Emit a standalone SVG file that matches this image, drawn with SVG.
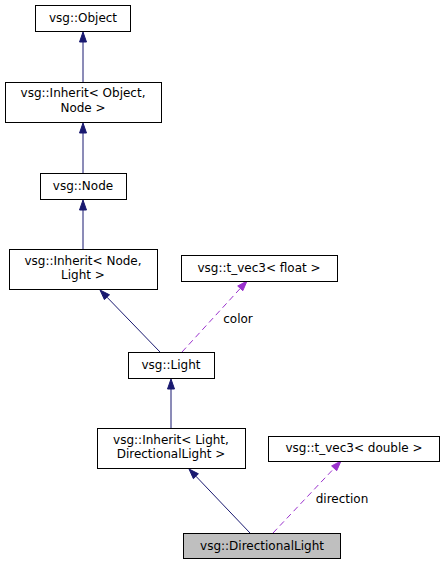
<svg xmlns="http://www.w3.org/2000/svg" width="445" height="564" viewBox="0 0 445 564">
<style>
.box{fill:#fff;stroke:#000;stroke-width:1}
.cur{fill:#bfbfbf;stroke:#000;stroke-width:1}
text{font-family:"DejaVu Sans",sans-serif;font-size:12px;text-anchor:middle;fill:#000}
.inh{stroke:#191970;stroke-width:1;fill:none}
.use{stroke:#9a32cd;stroke-width:1;fill:none;stroke-dasharray:6,4}
.ah{fill:#191970;stroke:#191970}
.ap{fill:#9a32cd;stroke:#9a32cd}
</style>
<rect width="445" height="564" fill="#fff"/>
<g id="edges">
<path class="inh" d="M83,82 L83,42"/>
<polygon class="ah" points="79.5,42 83,32 86.5,42"/>
<path class="inh" d="M83,173 L83,133"/>
<polygon class="ah" points="79.5,133 83,123 86.5,133"/>
<path class="inh" d="M83,250 L83,210"/>
<polygon class="ah" points="79.5,210 83,200 86.5,210"/>
<path class="inh" d="M160,352 L107,297.2"/>
<polygon class="ah" points="109.5,294.8 100,290 104.4,299.6"/>
<path class="use" d="M182,352 L240.3,288.4"/>
<polygon class="ap" points="242.8,290.7 247,281 237.7,286"/>
<text x="238" y="323">color</text>
<path class="inh" d="M171,428 L171,389"/>
<polygon class="ah" points="167.5,389 171,379 174.5,389"/>
<path class="inh" d="M250,533 L195.9,476.2"/>
<polygon class="ah" points="198.4,473.8 189,469 193.4,478.7"/>
<path class="use" d="M273,533 L334.1,468.3"/>
<polygon class="ap" points="336.7,470.7 341,461 331.6,465.9"/>
<text x="342" y="503">direction</text>
</g>
<g id="node-object"><rect class="box" x="35.5" y="5.5" width="95" height="26"/><text x="83" y="22">vsg::Object</text></g>
<g id="node-inherit-object-node"><rect class="box" x="5.5" y="82.5" width="156" height="40"/><text x="83" y="97">vsg::Inherit&lt; Object,</text><text x="83" y="112">Node &gt;</text></g>
<g id="node-node"><rect class="box" x="40.5" y="173.5" width="86" height="26"/><text x="83" y="190">vsg::Node</text></g>
<g id="node-inherit-node-light"><rect class="box" x="9.5" y="249.5" width="148" height="40"/><text x="83" y="265">vsg::Inherit&lt; Node,</text><text x="83" y="279">Light &gt;</text></g>
<g id="node-tvec3-float"><rect class="box" x="181.5" y="255.5" width="156" height="26"/><text x="259" y="272">vsg::t_vec3&lt; float &gt;</text></g>
<g id="node-light"><rect class="box" x="128.5" y="352.5" width="86" height="26"/><text x="171" y="369">vsg::Light</text></g>
<g id="node-inherit-light-dl"><rect class="box" x="97.5" y="428.5" width="148" height="40"/><text x="171" y="444">vsg::Inherit&lt; Light,</text><text x="171" y="458">DirectionalLight &gt;</text></g>
<g id="node-tvec3-double"><rect class="box" x="268.5" y="436.5" width="171" height="25"/><text x="354" y="452">vsg::t_vec3&lt; double &gt;</text></g>
<g id="node-directionallight"><rect class="cur" x="183.5" y="533.5" width="157" height="25"/><text x="262" y="550">vsg::DirectionalLight</text></g>
</svg>
